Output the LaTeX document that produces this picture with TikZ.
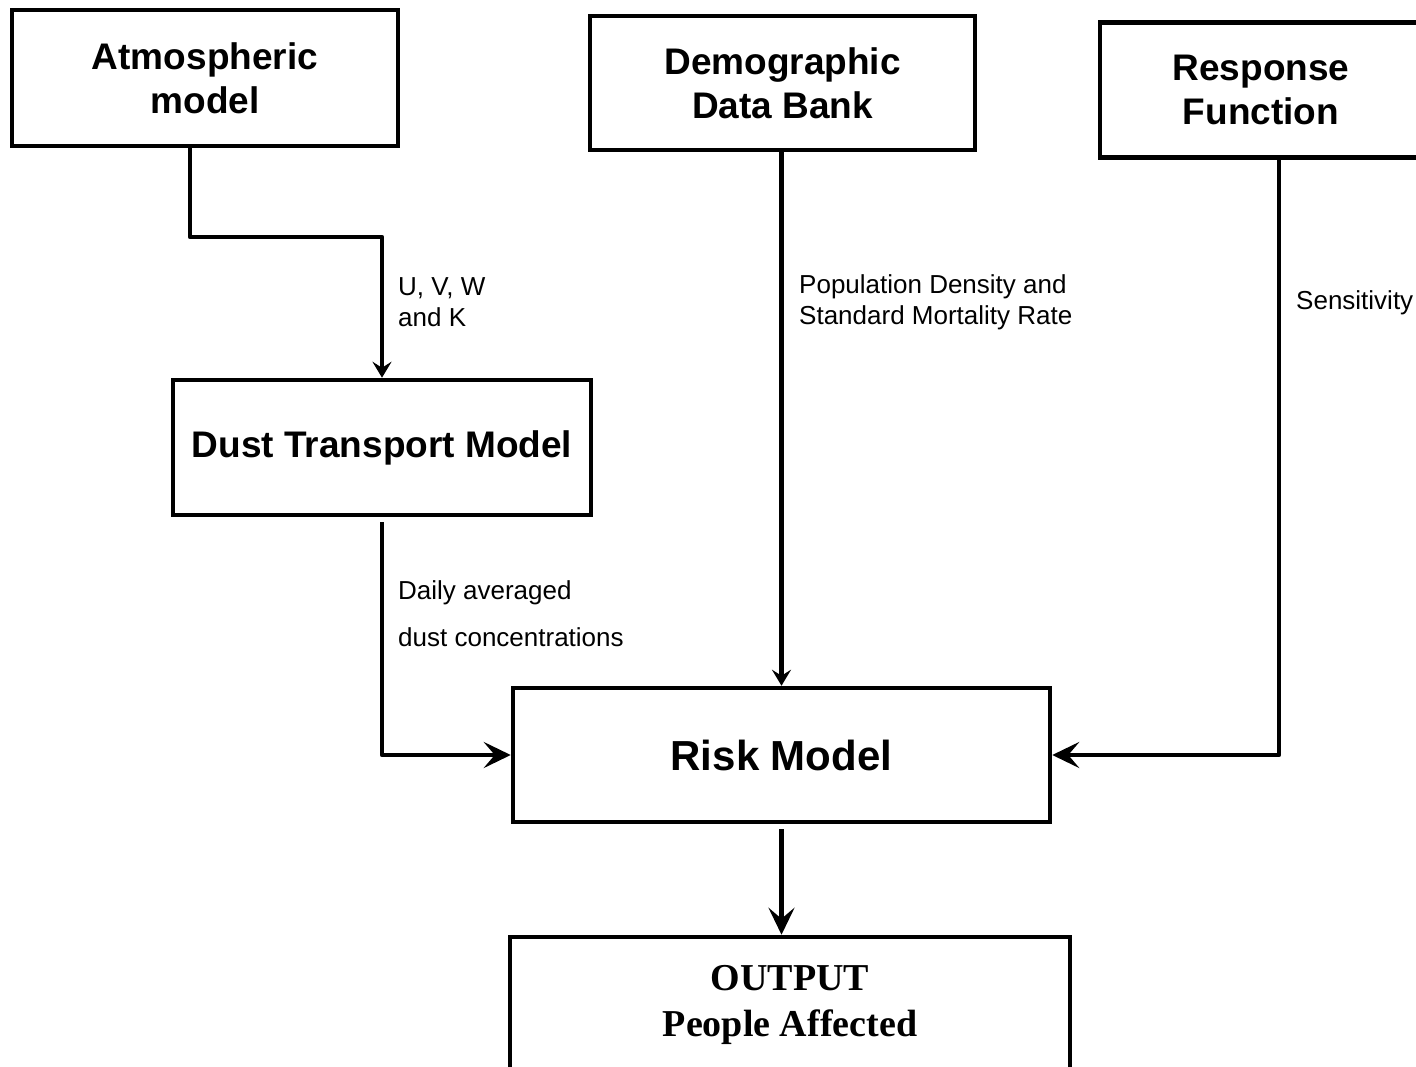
\documentclass[tikz,border=0pt]{standalone}
\usepackage{fontspec}
\setmainfont{Liberation Sans}
\newfontfamily\serifbf{Liberation Serif}
\usetikzlibrary{arrows.meta,calc}
\begin{document}
\begin{tikzpicture}[x=1pt,y=-1pt,
  box/.style={draw=black,line width=4.5pt,rectangle,inner sep=0pt,align=center,
    font=\fontsize{37}{44}\selectfont\bfseries},
  lbl/.style={anchor=west,align=left,inner sep=0pt,font=\fontsize{26}{31}\selectfont},
  conn/.style={line width=4.5pt,line join=round},
  bigtip/.style={-{Stealth[length=27pt,width=26pt,inset=11pt]}},
  smalltip/.style={-{Stealth[length=16pt,width=19pt,inset=6pt]}}]
\useasboundingbox (0,0) rectangle (1416,1067);
\clip (0,0) rectangle (1416,1067);
\node[box,minimum width=386pt,minimum height=136pt] (atm) at (205,78) {Atmospheric\\model};
\node[box,minimum width=385pt,minimum height=134pt] (demo) at (782.5,83) {Demographic\\Data Bank};
\node[box,minimum width=322pt,minimum height=135pt] (resp) at (1261,90) {Response\\Function};
\node[box,minimum width=418pt,minimum height=135pt] (dust) at (382,447.5) {Dust Transport Model};
\node[box,minimum width=537pt,minimum height=134pt,font=\fontsize{42}{48}\selectfont\bfseries] (risk) at (781.5,755) {Risk Model};
\node[box,minimum width=560pt,minimum height=136pt,font=\fontsize{38}{46}\selectfont\serifbf\bfseries] (out) at (790,1005) {OUTPUT\\People Affected};

\coordinate (bendA) at (190,237);
\coordinate (bendR) at (1279,757);
\draw[conn,smalltip] (atm.south -| bendA) -- (bendA) -| (dust.north);
\draw[conn,bigtip,shorten <=5pt] (dust.south) |- (risk.west);
\draw[conn,smalltip] (risk.north |- demo.south) -- (risk.north);
\draw[conn,bigtip] (resp.south -| bendR) |- (risk.east);
\draw[conn,bigtip,shorten <=5pt] (risk.south) -- (risk.south |- out.north);

\node[lbl] (l1) at (398,302.5) {U, V, W\\and K};
\node[lbl,font=\fontsize{26}{47}\selectfont] (l2) at (398,613.5) {Daily averaged\\dust concentrations};
\node[lbl] (l3) at (799,302.5) {Population Density and\\Standard Mortality Rate};
\node[lbl] (l4) at (1296,303) {Sensitivity};
\end{tikzpicture}
\end{document}
